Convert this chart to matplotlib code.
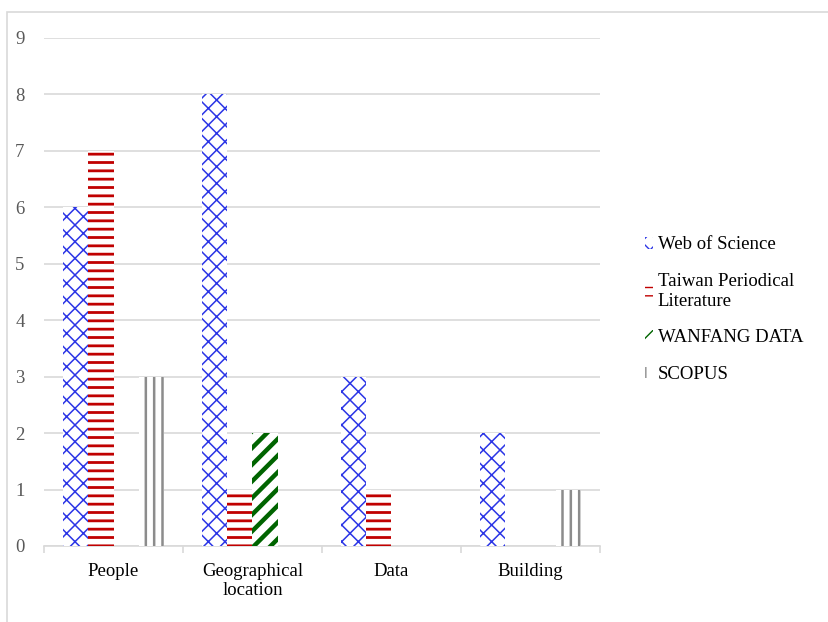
import matplotlib
matplotlib.use("Agg")
import matplotlib.pyplot as plt
import numpy as np
from matplotlib.patches import Rectangle

categories = ["People", "Geographical\nlocation", "Data", "Building"]
series_names = ["Web of Science", "Taiwan Periodical\nLiterature", "WANFANG DATA", "SCOPUS"]
web_of_science = [6, 8, 3, 2]
taiwan_periodical = [7, 1, 1, 0]
wanfang_data = [0, 2, 0, 0]
scopus = [3, 0, 0, 1]
y_ticks = list(range(0, 10))

plt.rcParams["font.family"] = ["Liberation Serif", "DejaVu Serif"]

fig = plt.figure(figsize=(8.29, 6.22), dpi=100)
fig.patches.append(Rectangle((7 / 829, -0.1), 1.2, 0.1 + (622 - 12) / 622,
                             transform=fig.transFigure, fill=False,
                             edgecolor="#d9d9d9", linewidth=1.2, zorder=0))
ax = fig.add_axes([44 / 829, 76 / 622, 556 / 829, 508 / 622])

x = np.arange(len(categories))
w = 0.183
styles = [
    (web_of_science, "xx", "#2b35e6", 1.1),
    (taiwan_periodical, "--", "#c00000", 2.0),
    (wanfang_data, "//", "#006400", 3.2),
    (scopus, "||", "#8c8c8c", 1.8),
]
handles = []
for i, (vals, hatch, color, hlw) in enumerate(styles):
    with plt.rc_context({"hatch.linewidth": hlw}):
        bars = ax.bar(x + (i - 1.5) * w, vals, width=w, facecolor="white",
                      edgecolor=color, hatch=hatch, linewidth=0, zorder=3,
                      label=series_names[i])
    handles.append(bars)

ax.set_xlim(-0.5, 3.5)
ax.set_ylim(0, 9)
ax.set_yticks(y_ticks)
ax.set_yticklabels([str(v) for v in y_ticks], fontsize=13.5, color="#595959")
ax.tick_params(axis="y", length=0, pad=14)
ax.yaxis.grid(True, color="#d9d9d9", linewidth=1.2, zorder=0)
ax.set_axisbelow(True)
for s in ["top", "right", "left"]:
    ax.spines[s].set_visible(False)
ax.spines["bottom"].set_color("#d9d9d9")
ax.spines["bottom"].set_linewidth(1.2)

ax.set_xticks(x)
ax.set_xticklabels(categories, fontsize=13.5)
ax.tick_params(axis="x", length=0, pad=12)
ax.set_xticks(np.arange(-0.5, 4.0, 1.0), minor=True)
ax.tick_params(axis="x", which="minor", length=5, color="#d9d9d9", width=1.2)

leg = ax.legend(handles=handles, loc="center left", bbox_to_anchor=(1.05, 0.465),
                frameon=False, fontsize=13.5, handlelength=0.45, handleheight=0.6,
                handletextpad=0.25, labelspacing=1.05)

fig.savefig("out.png", dpi=100)
